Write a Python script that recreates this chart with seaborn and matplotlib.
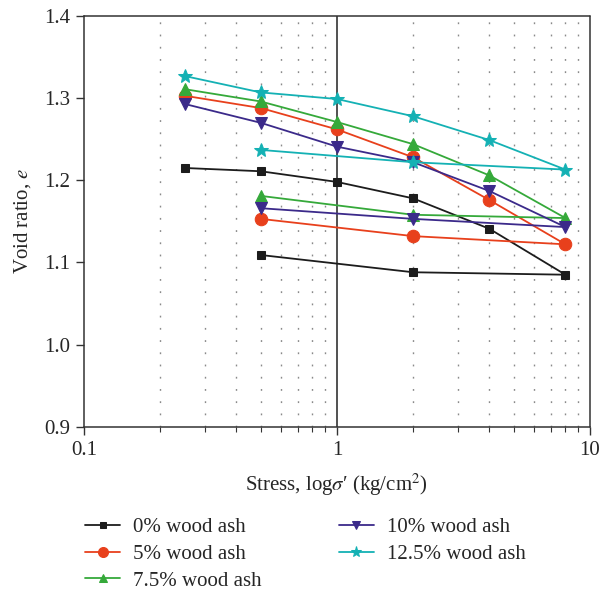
import numpy as np
import pandas as pd
import seaborn as sns
import matplotlib.pyplot as plt
from matplotlib.ticker import LogLocator, NullFormatter

# loading 0.25 -> 8, then unloading 8 -> 2 -> 0.5
stress = [0.25, 0.5, 1, 2, 4, 8, 2, 0.5]
e_0 = [1.215, 1.211, 1.198, 1.178, 1.141, 1.085, 1.088, 1.109]
e_5 = [1.303, 1.288, 1.262, 1.228, 1.176, 1.122, 1.132, 1.153]
e_75 = [1.311, 1.296, 1.271, 1.244, 1.206, 1.154, 1.158, 1.181]
e_10 = [1.293, 1.270, 1.241, 1.222, 1.187, 1.143, 1.153, 1.166]
e_125 = [1.327, 1.307, 1.299, 1.278, 1.249, 1.213, 1.222, 1.237]

labels = ['0% wood ash', '5% wood ash', '7.5% wood ash', '10% wood ash', '12.5% wood ash']
series = [e_0, e_5, e_75, e_10, e_125]
colors = ['#1c1c1c', '#e8401c', '#35a93a', '#3b2a8a', '#14b1b4']
markers = ['s', 'o', '^', 'v', '*']
msizes = [6, 9, 8, 8, 10]

sns.set_style("white")
plt.rcParams['font.family'] = ['Liberation Serif', 'DejaVu Serif']
plt.rcParams['mathtext.fontset'] = 'stix'

fig = plt.figure(figsize=(6.12, 5.95), dpi=100)
ax = fig.add_axes([0.137, 0.283, 0.827, 0.69])

for lab, vals, c, m, ms in zip(labels, series, colors, markers, msizes):
    df = pd.DataFrame({'stress': stress, 'e': vals})
    sns.lineplot(data=df, x='stress', y='e', sort=False, estimator=None,
                 color=c, marker=m, markersize=ms, markeredgecolor=c,
                 linewidth=1.3, label=lab, ax=ax)

ax.set_xscale('log')
ax.set_xlim(0.1, 10)
ax.set_ylim(0.9, 1.4)
ax.set_yticks([0.9, 1.0, 1.1, 1.2, 1.3, 1.4])
ax.set_yticklabels(['0.9', '1.0', '1.1', '1.2', '1.3', '1.4'])
ax.set_xticks([0.1, 1, 10])
ax.set_xticklabels(['0.1', '1', '10'])
ax.xaxis.set_minor_locator(LogLocator(base=10, subs=np.arange(2, 10)))
ax.xaxis.set_minor_formatter(NullFormatter())

# dotted minor verticals and a solid line at 1
minor = [s * d for d in (0.1, 1) for s in range(2, 10)]
for xv in minor:
    ax.axvline(xv, color='#8a8a8a', linestyle=(0, (1.3, 7.5)), linewidth=1.0, zorder=0)
ax.axvline(1, color='#333333', linewidth=1.2, zorder=0)

for side in ['top', 'right']:
    ax.spines[side].set_visible(False)
for side in ['left', 'bottom']:
    ax.spines[side].set_color('#333333')
    ax.spines[side].set_linewidth(1.1)
ax.plot([1, 1], [0, 1], transform=ax.transAxes, color='#333333', lw=1.1, clip_on=False)
ax.plot([0, 1], [1, 1], transform=ax.transAxes, color='#333333', lw=1.1, clip_on=False)

ax.tick_params(axis='both', which='major', direction='out', length=6, width=1,
               color='#333333', labelsize=15, left=True, bottom=True, pad=4)
ax.tick_params(axis='x', which='minor', direction='out', length=3.5, width=0.8,
               color='#333333', bottom=True)

ax.set_xlabel("Stress, log$\\sigma$\u2032 (kg/cm$^2$)", fontsize=15, labelpad=9)
ax.set_ylabel('Void ratio, $e$', fontsize=15, labelpad=8)

fig.legend(*ax.get_legend_handles_labels(), loc='upper left',
           bbox_to_anchor=(0.139, 0.130), ncol=2, frameon=False,
           fontsize=15, handlelength=1.68, columnspacing=3.7, labelspacing=0.34,
           handletextpad=0.62, markerscale=0.8, borderpad=0, borderaxespad=0)
ax.get_legend().remove()

fig.savefig('out.png', dpi=100)
